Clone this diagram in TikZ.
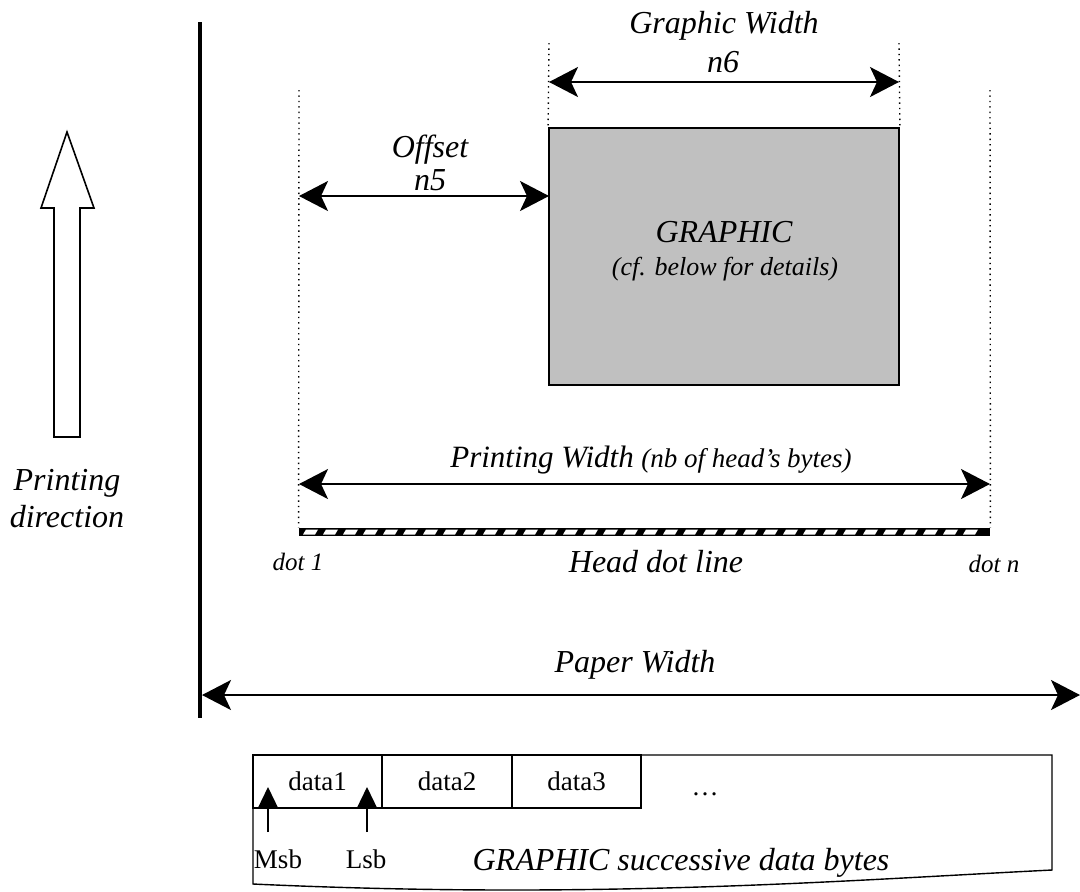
\documentclass[tikz,border=0pt]{standalone}
\usepackage{fontspec}
\setmainfont{Liberation Serif}
\usetikzlibrary{arrows.meta}
\definecolor{gfxgray}{RGB}{192,192,192}
\begin{document}
\begin{tikzpicture}[x=0.5pt,y=-0.5pt,
    dim/.style={line width=1pt,{Stealth[length=14.5pt,width=15pt,inset=3.5pt]}-{Stealth[length=14.5pt,width=15pt,inset=3.5pt]}},
    guide/.style={dotted,line width=0.7pt},
    bit/.style={line width=0.7pt,-{Triangle[length=10.5pt,width=10pt]}},
    cell/.style={draw,line width=0.7pt,minimum width=64.5pt,minimum height=26.5pt,inner sep=0pt,font=\fontsize{13.5}{16}\selectfont}]

  \useasboundingbox (0,0) rectangle (1080,891);

  % paper edge and printing direction
  \coordinate (edgetop) at (200,22);
  \coordinate (edgebot) at (200,718);
  \draw[line width=2pt] (edgetop) -- (edgebot);
  \draw[line width=0.8pt] (54,437) -- (54,208) -- (41,208) -- (67,132) -- (94,208) -- (80,208) -- (80,437) -- cycle;

  % graphic and head
  \node[draw,fill=gfxgray,line width=0.9pt,minimum width=175pt,minimum height=128.5pt,inner sep=0pt] (gfx) at (724,256.5) {};
  \node[fill=black,minimum width=345.5pt,minimum height=4pt,inner sep=0pt] (head) at (644.5,532) {};
  \foreach \x in {303,323,...,975}
    \fill[white] (\x,534.5) -- (\x+3,529.5) -- (\x+15,529.5) -- (\x+12,534.5) -- cycle;

  \coordinate (pl) at (299,90);
  \coordinate (pr) at (990,90);
  \coordinate (gl) at (549,43);
  \coordinate (gr) at (899,43);
  \draw[guide] (pl) -- (head.north west);
  \draw[guide] (pr) -- (head.north east);
  \draw[guide] (gl) -- (gfx.north west);
  \draw[guide] (gr) -- (gfx.north east);

  \coordinate (gwl) at (549,82);
  \coordinate (gwr) at (899,82);
  \coordinate (offl) at (299,196);
  \coordinate (offr) at (549,196);
  \coordinate (pwl) at (299,484);
  \coordinate (pwr) at (990,484);
  \coordinate (paperl) at (202,695);
  \coordinate (paperr) at (1080,695);
  \draw[dim] (gwl) -- (gwr);
  \draw[dim] (offl) -- (offr);
  \draw[dim] (pwl) -- (pwr);
  \draw[dim] (paperl) -- (paperr);

  \begin{scope}[every node/.style={anchor=base,inner sep=0pt,font=\fontsize{16}{19}\selectfont\itshape}]
    \node (gwtxt)   at (724,33)  {Graphic Width};
    \node (n6)      at (723,72)  {n6};
    \node (offtxt)  at (430,157) {Offset};
    \node (n5)      at (430,190) {n5};
    \node (gfxtxt)  at (724,242) {GRAPHIC};
    \node[font=\fontsize{13}{15}\selectfont\itshape] (cf) at (725,275) {(cf. below for details)};
    \node[font=\fontsize{15.5}{18}\selectfont\itshape] (pwtxt) at (651,467) {Printing Width {\fontsize{13.5}{15}\selectfont(nb of head's bytes)}};
    \node[font=\fontsize{12.5}{14}\selectfont\itshape] (dot1) at (298,570) {dot 1};
    \node (headtxt) at (656,572) {Head dot line};
    \node[font=\fontsize{12.5}{14}\selectfont\itshape] (dotn) at (994,572) {dot n};
    \node (paper)   at (635,672) {Paper Width};
    \node (dir1)    at (67,490)  {Printing};
    \node (dir2)    at (67,527)  {direction};
    \node (bytes)   at (681,870) {GRAPHIC successive data bytes};
  \end{scope}

  % data bytes
  \draw[line width=0.7pt] (253,755) -- (1052,755) -- (1052,870) .. controls (850,880) and (600,900) .. (253,884) -- cycle;
  \node[cell] (d1) at (317.5,781.5) {data1};
  \node[cell] (d2) at (447,781.5)   {data2};
  \node[cell] (d3) at (576.5,781.5) {data3};

  \begin{scope}[every node/.style={anchor=base,inner sep=0pt,font=\fontsize{13.5}{16}\selectfont}]
    \node (dots) at (705,795) {…};
    \node (msb)  at (278,868) {Msb};
    \node (lsb)  at (366,868) {Lsb};
  \end{scope}

  \coordinate (msbfoot) at (268,832);
  \coordinate (msbtip)  at (268,787);
  \coordinate (lsbfoot) at (367,832);
  \coordinate (lsbtip)  at (367,787);
  \draw[bit] (msbfoot) -- (msbtip);
  \draw[bit] (lsbfoot) -- (lsbtip);

\end{tikzpicture}
\end{document}
